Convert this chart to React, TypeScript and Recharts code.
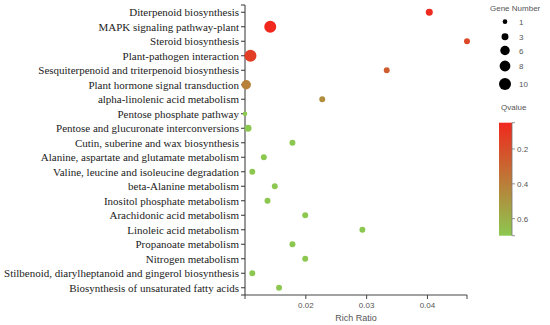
import React from 'react';
import { ScatterChart, Scatter, XAxis, YAxis, ZAxis, Cell } from 'recharts';

const pathways = [
  'Diterpenoid biosynthesis',
  'MAPK signaling pathway-plant',
  'Steroid biosynthesis',
  'Plant-pathogen interaction',
  'Sesquiterpenoid and triterpenoid biosynthesis',
  'Plant hormone signal transduction',
  'alpha-linolenic acid metabolism',
  'Pentose phosphate pathway',
  'Pentose and glucuronate interconversions',
  'Cutin, suberine and wax biosynthesis',
  'Alanine, aspartate and glutamate metabolism',
  'Valine, leucine and isoleucine degradation',
  'beta-Alanine metabolism',
  'Inositol phosphate metabolism',
  'Arachidonic acid metabolism',
  'Linoleic acid metabolism',
  'Propanoate metabolism',
  'Nitrogen metabolism',
  'Stilbenoid, diarylheptanoid and gingerol biosynthesis',
  'Biosynthesis of unsaturated fatty acids',
];

const richRatio = [
  0.0403, 0.01415, 0.0465, 0.0109, 0.0333, 0.0102, 0.0227, 0.0100, 0.0105, 0.0178,
  0.0131, 0.0112, 0.0149, 0.0137, 0.0199, 0.0293, 0.0178, 0.0199, 0.0112, 0.0156,
];

const geneNumber = [3, 10, 2, 10, 2, 6, 2, 1, 3, 2, 2, 2, 2, 2, 2, 2, 2, 2, 2, 2];

const qValue = [
  0.06, 0.049, 0.18, 0.14, 0.27, 0.41, 0.46, 0.698, 0.698, 0.698,
  0.698, 0.698, 0.698, 0.698, 0.698, 0.698, 0.698, 0.698, 0.698, 0.698,
];

const xTicks = [0.02, 0.03, 0.04];
const geneLegend = [1, 3, 6, 8, 10];
const qTicks = [0.2, 0.4, 0.6];

const RED = [240, 40, 30];
const GREEN = [140, 200, 80];
const qMin = Math.min(...qValue);
const qMax = Math.max(...qValue);
const xMin = Math.min(...richRatio);
const xMax = Math.max(...richRatio);
const gMin = Math.min(...geneLegend);
const gMax = Math.max(...geneLegend);
const SIZE_RANGE: [number, number] = [17, 113];

function qColor(q: number) {
  const f = (q - qMin) / (qMax - qMin);
  const c = RED.map((r, i) => Math.round(r + (GREEN[i] - r) * f));
  return `rgb(${c[0]},${c[1]},${c[2]})`;
}

const data = pathways.map((name, i) => ({
  name,
  idx: i,
  x: richRatio[i],
  z: geneNumber[i],
  q: qValue[i],
}));

const yTicks = [-0.5, ...pathways.map((_, i) => i), pathways.length - 0.5];
const xTickAll = [xMin, ...xTicks, xMax];

const SANS = '"Liberation Sans", Arial, sans-serif';
const SERIF = '"Liberation Serif", "Times New Roman", serif';

function YTick(props: any) {
  const { x, y, payload } = props;
  const label = pathways[payload.value];
  if (label === undefined) return null;
  return (
    <text x={x} y={y} dy={3.8} textAnchor="end" fontSize={11} fill="#222" fontFamily={SERIF}>
      {label}
    </text>
  );
}

function XTick(props: any) {
  const { x, y, payload } = props;
  if (!xTicks.includes(payload.value)) return null;
  return (
    <text x={x} y={y} dy={7} textAnchor="middle" fontSize={8} fill="#555" fontFamily={SANS}>
      {payload.value}
    </text>
  );
}

export default function App() {
  const cbTop = 122.7;
  const cbH = 113;
  const cbX = 499;
  const cbW = 13;
  const legendY = [21.7, 36.7, 50.5, 66, 84];
  const radius = (g: number) => {
    const area = SIZE_RANGE[0] + ((g - gMin) / (gMax - gMin)) * (SIZE_RANGE[1] - SIZE_RANGE[0]);
    return Math.sqrt(area / Math.PI);
  };
  return (
    <div style={{ position: 'absolute', left: 0, top: 0, width: 550, height: 325, background: '#fff' }}>
      <ScatterChart width={550} height={325} margin={{ top: 5, right: 83, bottom: 0, left: 0 }}>
        <XAxis
          type="number"
          dataKey="x"
          domain={[xMin, xMax]}
          ticks={xTickAll}
          interval={0}
          height={30}
          tickSize={4}
          tickMargin={2}
          stroke="#444"
          tick={<XTick />}
          label={{ value: 'Rich Ratio', position: 'insideBottom', offset: 4, fill: '#555', fontSize: 9, fontFamily: SANS }}
        />
        <YAxis
          type="number"
          dataKey="idx"
          domain={[-0.5, pathways.length - 0.5]}
          reversed
          ticks={yTicks}
          interval={0}
          width={245}
          tickSize={4}
          tickMargin={2}
          stroke="#333"
          tick={<YTick />}
        />
        <ZAxis type="number" dataKey="z" domain={[gMin, gMax]} range={SIZE_RANGE} />
        <Scatter data={data} isAnimationActive={false}>
          {data.map((d, i) => (
            <Cell key={i} fill={qColor(d.q)} />
          ))}
        </Scatter>
      </ScatterChart>
      <svg width={550} height={325} style={{ position: 'absolute', left: 0, top: 0, pointerEvents: 'none' }}>
        <defs>
          <linearGradient id="qgrad" x1="0" y1="0" x2="0" y2="1">
            <stop offset="0" stopColor={qColor(qMin)} />
            <stop offset="1" stopColor={qColor(qMax)} />
          </linearGradient>
        </defs>
        <text x={490} y={11} fontSize={8} fill="#555" fontFamily={SANS}>Gene Number</text>
        {geneLegend.map((g, i) => (
          <g key={g}>
            <circle cx={505} cy={legendY[i]} r={radius(g)} fill="#000" />
            <text x={519} y={legendY[i] + 3} fontSize={8} fill="#555" fontFamily={SANS}>{g}</text>
          </g>
        ))}
        <text x={501} y={110} fontSize={8} fill="#555" fontFamily={SANS}>Qvalue</text>
        <rect x={cbX} y={cbTop} width={cbW} height={cbH} fill="url(#qgrad)" />
        <line x1={cbX + cbW} y1={cbTop} x2={cbX + cbW} y2={cbTop + cbH} stroke="#777" strokeWidth={0.8} />
        {[qMin, ...qTicks, qMax].map((q, i) => {
          const y = cbTop + ((q - qMin) / (qMax - qMin)) * cbH;
          return (
            <g key={i}>
              <line x1={cbX + cbW} y1={y} x2={cbX + cbW + 3} y2={y} stroke="#777" strokeWidth={0.8} />
              {qTicks.includes(q) && (
                <text x={cbX + cbW + 5} y={y + 3} fontSize={8} fill="#555" fontFamily={SANS}>{q}</text>
              )}
            </g>
          );
        })}
      </svg>
    </div>
  );
}
